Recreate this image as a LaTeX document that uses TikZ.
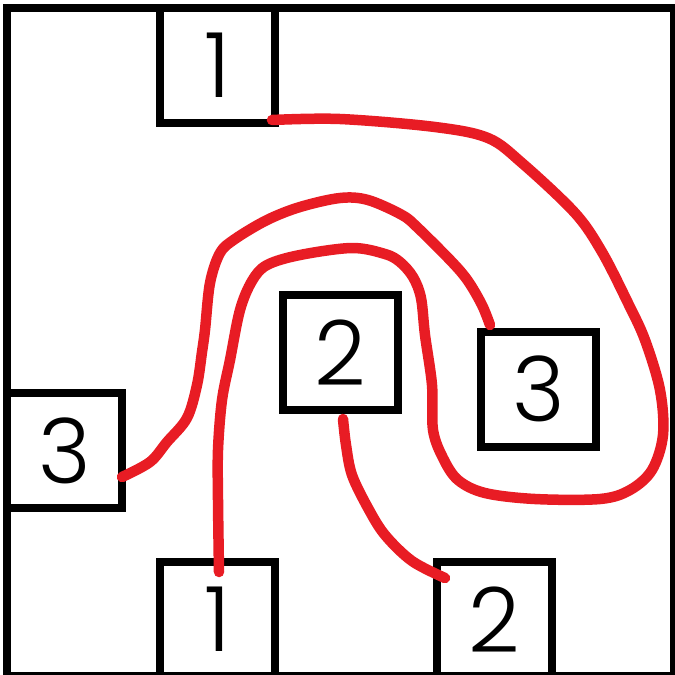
\documentclass[tikz,border=0pt]{standalone}
\usepackage{fontspec}
\setmainfont{Poppins}[UprightFont=* Light]
\definecolor{wire}{RGB}{232,28,36}
\begin{document}
\begin{tikzpicture}[x=1pt,y=-1pt,
  cell/.style={draw=black,line width=8pt,minimum width=115pt,minimum height=115pt,inner sep=0pt,
    font=\fontsize{90}{90}\selectfont,text depth=0pt},
  link/.style={draw=wire,line width=10.5pt,line cap=round,line join=round}]
\useasboundingbox (0,0) rectangle (675,675);
\draw[line width=8pt] (7,8) rectangle (674,676);
\node[cell] (t1) at (217.75,65.5) {1};
\node[cell] (l3) at (64.5,450.5) {3};
\node[cell] (c2) at (340.5,352.5) {2};
\node[cell] (r3) at (538.5,389) {3};
\node[cell] (b1) at (217.75,619.5) {1};
\node[cell] (b2) at (494.5,619.5) {2};
\coordinate (a0) at (272,120);
\coordinate (a1) at (219,572);
\coordinate (p0) at (122,477);
\coordinate (p1) at (490,325);
\coordinate (q0) at (343,419);
\coordinate (q1) at (445,578);
\draw[link] plot[smooth,tension=0.55] coordinates {(a0) (340,119) (435,127) (488,138) (522,163) (575,213) (602,252) (628,303) (645,340) (660,390) (663,435) (652,470) (630,490) (600,499) (535,499) (485,493) (458,480) (443,458) (433,430) (432,385) (425,335) (421,298) (413,277) (400,262) (385,254) (352,248) (300,255) (267,265) (252,281) (240,310) (230,360) (222,400) (218,450) (218,500) (a1)};
\draw[link] plot[smooth,tension=0.55] coordinates {(p0) (150,462) (167,442) (187,418) (197,385) (202,352) (205,330) (210,283) (220,253) (235,239) (267,220) (300,207) (340,198) (368,200) (402,215) (418,228) (452,262) (468,281) (482,305) (p1)};
\draw[link] plot[smooth,tension=0.55] coordinates {(q0) (346,445) (352,475) (368,508) (385,535) (412,561) (q1)};
\end{tikzpicture}
\end{document}
